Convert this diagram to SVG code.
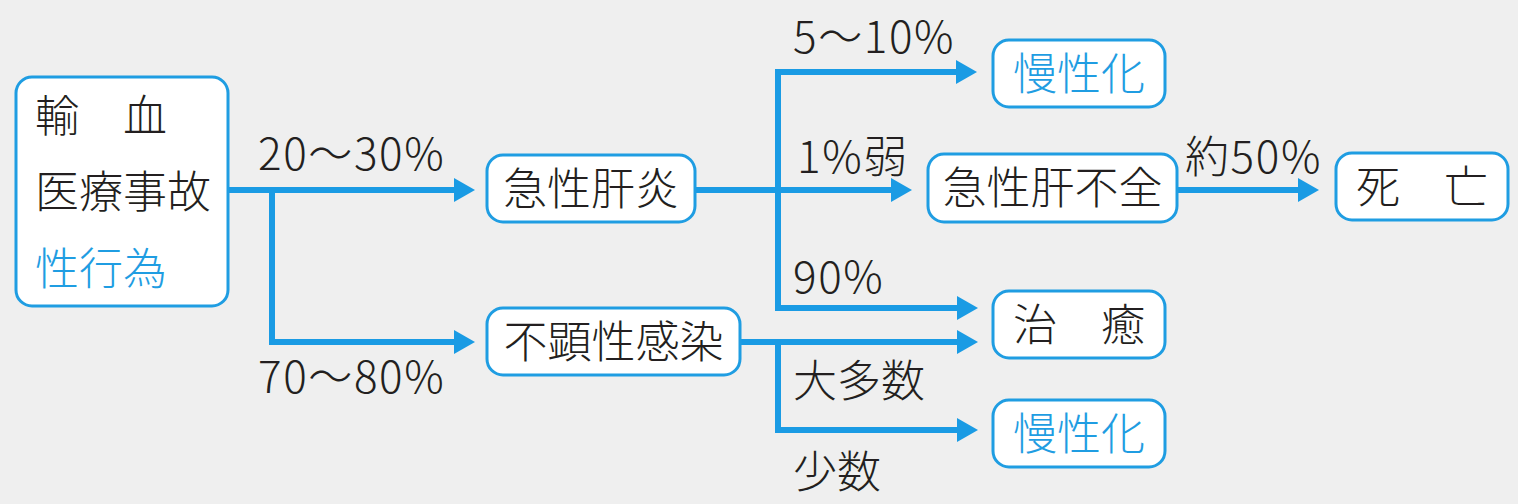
<svg xmlns="http://www.w3.org/2000/svg" width="1518" height="504" viewBox="0 0 1518 504">
<defs>
<style>
.box{fill:#ffffff;stroke:#1f9de2;stroke-width:3}
.t{font-family:"Noto Sans CJK JP","Noto Sans",sans-serif;font-size:44px;font-weight:300;fill:#231f20}
.n{letter-spacing:1.6px}
.b{fill:#1f9de2}
.c{text-anchor:middle}
.ln{fill:none;stroke:#1a9be4;stroke-width:6;marker-end:url(#ah)}
.ln2{fill:none;stroke:#1a9be4;stroke-width:6}
</style>
<marker id="ah" markerUnits="userSpaceOnUse" markerWidth="22" markerHeight="24" refX="1" refY="12" orient="auto">
<path d="M0,0 L21,12 L0,24 z" fill="#1a9be4"/>
</marker>
</defs>
<rect width="1518" height="504" fill="#efefef"/>
<g id="connectors">
<path class="ln" d="M228,190 H455"/>
<path class="ln" d="M272,190 V342 H455"/>
<path class="ln" d="M695,190 H892"/>
<path class="ln2" d="M778,72 V308"/>
<path class="ln" d="M775,72 H957"/>
<path class="ln" d="M775,308 H958"/>
<path class="ln" d="M740,342 H958"/>
<path class="ln" d="M778,342 V430 H958"/>
<path class="ln" d="M1177,190 H1299"/>
</g>
<g id="labels">
<text class="t n" x="258" y="170">20～30%</text>
<text class="t n" x="258" y="393">70～80%</text>
<text class="t n" x="793" y="53">5～10%</text>
<text class="t n" x="797" y="173">1%弱</text>
<text class="t n" x="793" y="293">90%</text>
<text class="t" x="793" y="397">大多数</text>
<text class="t" x="793" y="488">少数</text>
<text class="t n" x="1185" y="173">約50%</text>
</g>
<g id="node-source">
<rect class="box" x="16" y="77" width="212" height="229" rx="16"/>
<text class="t" x="35" y="132">輸　血</text>
<text class="t" x="35" y="208">医療事故</text>
<text class="t b" x="35" y="285">性行為</text>
</g>
<g id="node-acute-hepatitis">
<rect class="box" x="487" y="155" width="208" height="67" rx="16"/>
<text class="t c" x="591" y="205">急性肝炎</text>
</g>
<g id="node-inapparent">
<rect class="box" x="487" y="308" width="253" height="67" rx="16"/>
<text class="t c" x="613.5" y="358">不顕性感染</text>
</g>
<g id="node-chronic-1">
<rect class="box" x="993" y="40" width="172" height="67" rx="16"/>
<text class="t b c" x="1079" y="90">慢性化</text>
</g>
<g id="node-acute-failure">
<rect class="box" x="928" y="154" width="249" height="68" rx="16"/>
<text class="t c" x="1052.5" y="204">急性肝不全</text>
</g>
<g id="node-death">
<rect class="box" x="1336" y="153" width="172" height="67" rx="16"/>
<text class="t c" x="1422" y="203">死　亡</text>
</g>
<g id="node-cure">
<rect class="box" x="993" y="291" width="172" height="67" rx="16"/>
<text class="t c" x="1079" y="341">治　癒</text>
</g>
<g id="node-chronic-2">
<rect class="box" x="993" y="400" width="172" height="67" rx="16"/>
<text class="t b c" x="1079" y="450">慢性化</text>
</g>
</svg>
